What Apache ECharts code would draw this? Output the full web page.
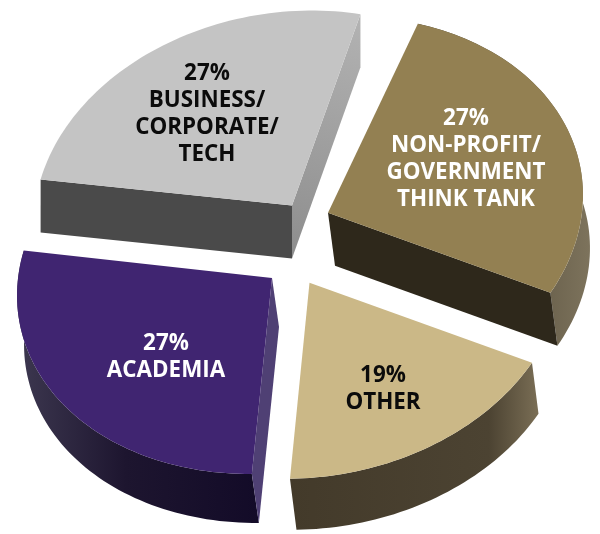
<!DOCTYPE html>
<html>
<head>
<meta charset="utf-8">
<style>html,body{margin:0;padding:0;background:#fff}#c{width:600px;height:534px}</style>
<script src="https://cdn.jsdelivr.net/npm/echarts@6/dist/echarts.min.js"></script>
</head>
<body>
<div id="c"></div>
<script>
// --- values ---
var categories = ['BUSINESS/\nCORPORATE/\nTECH', 'NON-PROFIT/\nGOVERNMENT\nTHINK TANK', 'OTHER', 'ACADEMIA'];
var percentLabels = [27, 27, 19, 27];
// share of the circle each wedge actually occupies in the drawing
var drawnShare = [25.9, 27.4, 18.1, 27.4];

// --- projection and layout ---
var RX = 256.4, RY = 194.1, TILT = -9.3 * Math.PI / 180;
var wedgeStartDeg = [200.1, 297.7, 396.3, 461.6];
var apex = [[292, 205.5], [328, 212.7], [309.5, 282.7], [272, 278]];
var arcShift = [[-3, 1], [0, 0], [0, 0], [0, 0]];
var extrude = [[0, 53], [7, 53], [6.5, 51], [7, 49]];
var labelPos = [[207, 114.5], [466, 159], [383, 389.5], [166, 357.5]];
var labelColor = ['#0b0b0b', '#ffffff', '#0b0b0b', '#ffffff'];
var topColor = ['#c4c4c4', '#938052', '#cbb887', '#402571'];
function grad(x, y, x2, y2, a, b, c) {
  var stops = c ? [{offset: 0, color: a}, {offset: c[0], color: c[1]}, {offset: 1, color: b}]
                : [{offset: 0, color: a}, {offset: 1, color: b}];
  return new echarts.graphic.LinearGradient(x, y, x2, y2, stops);
}
var outerFill = [
  null,
  grad(0, 0, 1, 0, '#3a3325', '#7d735c'),
  grad(0, 0, 1, 0, '#433a2a', '#7a6e55', [0.8, '#4c4332']),
  grad(0, 0, 1, 0, '#3d3850', '#130b28', [0.45, '#1d152f'])
];
// only the cut faces the viewer can see
var startFill = ['#4a4a4a', null, null, '#4f4074'];
var endFill = [grad(0, 1, 1, 0, '#8d8d8d', '#b3b3b3'), '#2e281b', null, null];

function point(index, deg, shift) {
  var t = deg * Math.PI / 180;
  var ex = RX * Math.cos(t), ey = RY * Math.sin(t);
  return [
    apex[index][0] + arcShift[index][0] + ex * Math.cos(TILT) - ey * Math.sin(TILT) + (shift ? extrude[index][0] : 0),
    apex[index][1] + arcShift[index][1] + ex * Math.sin(TILT) + ey * Math.cos(TILT) + (shift ? extrude[index][1] : 0)
  ];
}
function arc(index, a0, a1, shift) {
  var pts = [], n = Math.ceil((a1 - a0) / 1.5);
  for (var i = 0; i <= n; i++) pts.push(point(index, a0 + (a1 - a0) * i / n, shift));
  return pts;
}
function poly(points, fill) {
  return {type: 'polygon', shape: {points: points}, style: {fill: fill}};
}
var chart = echarts.init(document.getElementById('c'), null, {renderer: 'canvas'});
chart.setOption({
  animation: false,
  backgroundColor: '#ffffff',
  series: [{
    type: 'custom',
    coordinateSystem: 'none',
    silent: true,
    data: drawnShare.map(function (v, i) { return {value: [v, percentLabels[i]], name: categories[i]}; }),
    renderItem: function (params, api) {
      var i = params.dataIndex;
      var a0 = wedgeStartDeg[i];
      var a1 = a0 + api.value(0) * 3.6;
      var ap = apex[i], apB = [ap[0] + extrude[i][0], ap[1] + extrude[i][1]];
      var top = arc(i, a0, a1, false), low = arc(i, a0, a1, true);
      var last = top.length - 1;
      var kids = [];
      if (outerFill[i]) kids.push(poly(top.concat(low.slice().reverse()), outerFill[i]));
      if (startFill[i]) kids.push(poly([ap, top[0], low[0], apB], startFill[i]));
      if (endFill[i]) kids.push(poly([ap, top[last], low[last], apB], endFill[i]));
      kids.push(poly([ap].concat(top), topColor[i]));
      kids.push({
        type: 'text',
        style: {
          x: labelPos[i][0], y: labelPos[i][1],
          text: api.value(1) + '%\n' + categories[i],
          fill: labelColor[i],
          font: '700 22.4px "Open Sans"',
          lineHeight: 27,
          align: 'center', verticalAlign: 'middle'
        }
      });
      return {type: 'group', children: kids};
    }
  }]
});
</script>
</body>
</html>
